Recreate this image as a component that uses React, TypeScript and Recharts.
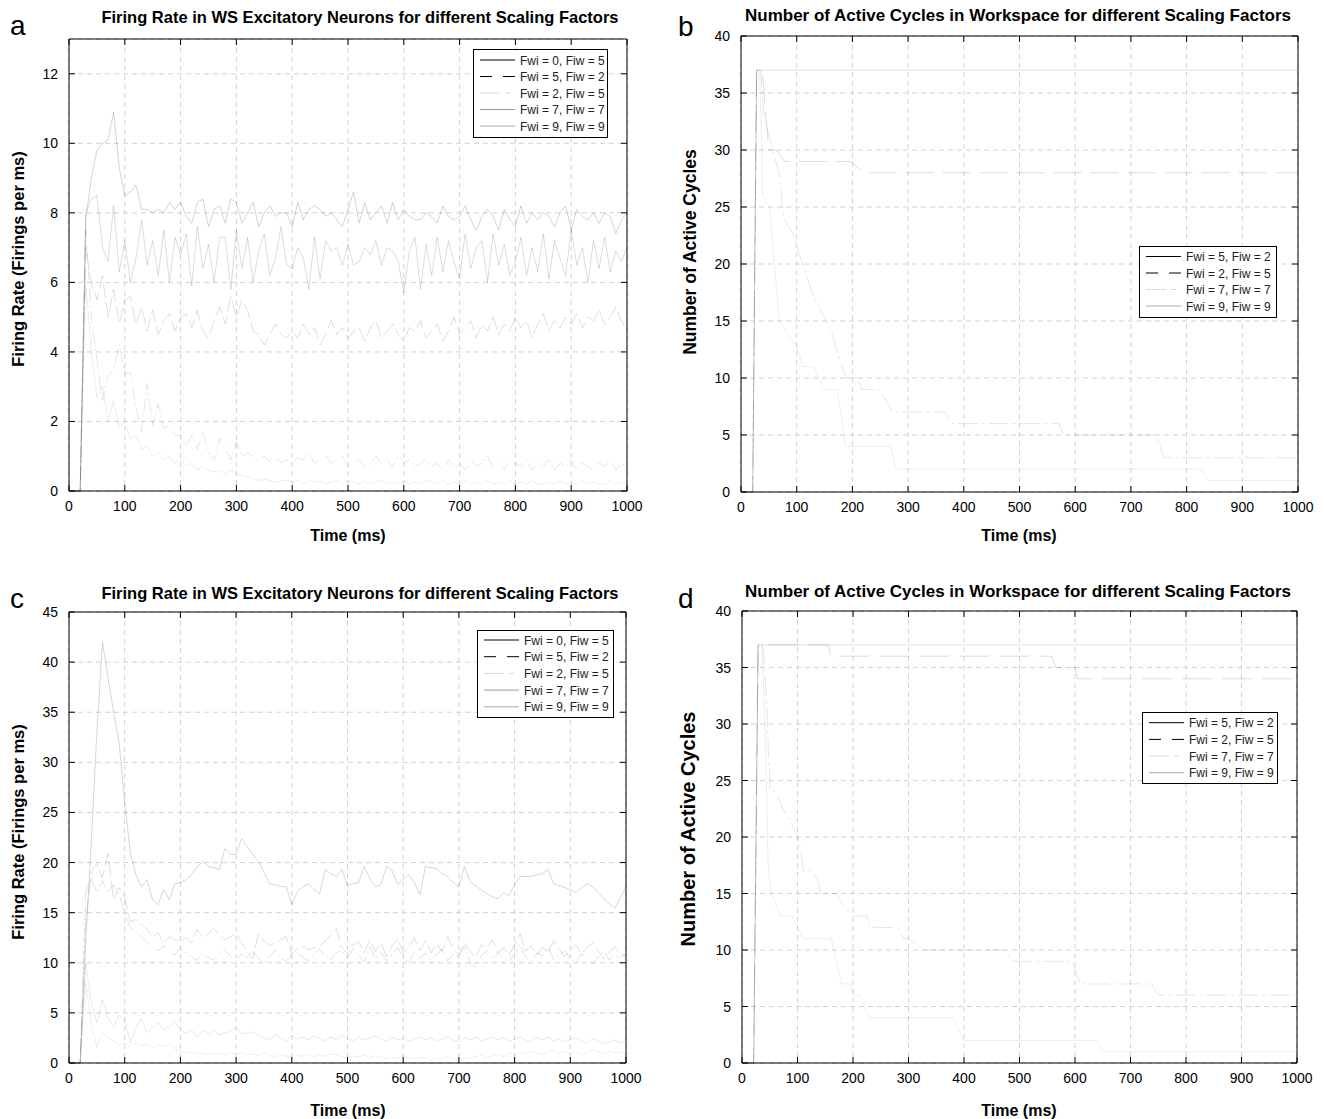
import React from 'react';
import { LineChart, Line, XAxis, YAxis, CartesianGrid, ReferenceArea } from 'recharts';

const FONT = '"Liberation Sans", Arial, Helvetica, sans-serif';

// time axis (ms), sampled every 10 ms
const TIME = [
  0, 10, 20, 30, 40, 50, 60, 70, 80, 90,
  100, 110, 120, 130, 140, 150, 160, 170, 180, 190,
  200, 210, 220, 230, 240, 250, 260, 270, 280, 290,
  300, 310, 320, 330, 340, 350, 360, 370, 380, 390,
  400, 410, 420, 430, 440, 450, 460, 470, 480, 490,
  500, 510, 520, 530, 540, 550, 560, 570, 580, 590,
  600, 610, 620, 630, 640, 650, 660, 670, 680, 690,
  700, 710, 720, 730, 740, 750, 760, 770, 780, 790,
  800, 810, 820, 830, 840, 850, 860, 870, 880, 890,
  900, 910, 920, 930, 940, 950, 960, 970, 980, 990,
  1000,
];

const X_TICKS = [0, 100, 200, 300, 400, 500, 600, 700, 800, 900, 1000];
const A_Y_TICKS = [0, 2, 4, 6, 8, 10, 12];
const C_Y_TICKS = [0, 5, 10, 15, 20, 25, 30, 35, 40, 45];
const BD_Y_TICKS = [0, 5, 10, 15, 20, 25, 30, 35, 40];

const LABELS_5 = ['Fwi = 0, Fiw = 5', 'Fwi = 5, Fiw = 2', 'Fwi = 2, Fiw = 5', 'Fwi = 7, Fiw = 7', 'Fwi = 9, Fiw = 9'];
const LABELS_4 = ['Fwi = 5, Fiw = 2', 'Fwi = 2, Fiw = 5', 'Fwi = 7, Fiw = 7', 'Fwi = 9, Fiw = 9'];

// panel a: firing rate (firings per ms)
const A_FWI9 = [
  0, 0, 0, 7.8, 9.0, 9.8, 10.0, 10.1, 10.9, 9.3,
  8.5, 8.6, 8.8, 8.1, 8.1, 8.0, 8.1, 8.0, 8.3, 8.1,
  8.3, 7.9, 7.7, 8.3, 8.4, 7.6, 8.1, 8.2, 7.7, 8.4,
  8.3, 7.7, 8.0, 8.3, 7.6, 8.0, 8.2, 7.9, 8.0, 8.0,
  7.6, 8.3, 7.8, 8.1, 8.2, 8.1, 7.9, 8.0, 7.8, 7.6,
  8.1, 8.6, 7.7, 8.3, 7.8, 8.0, 8.2, 7.7, 8.3, 7.8,
  8.1, 7.9, 7.8, 7.8, 8.0, 7.9, 7.7, 8.2, 7.9, 7.8,
  7.9, 8.2, 7.8, 7.5, 7.9, 8.1, 7.9, 7.5, 8.1, 7.8,
  7.6, 8.2, 7.7, 8.0, 7.8, 8.0, 7.9, 7.6, 8.0, 8.2,
  7.5, 8.1, 7.9, 7.8, 8.0, 7.7, 8.0, 7.9, 7.4, 7.8,
  8.0,
];
const A_FWI7 = [
  0, 0, 0, 8.0, 8.4, 8.5, 7.0, 6.6, 8.2, 6.3,
  7.2, 6.0, 6.7, 7.8, 6.5, 7.2, 6.2, 7.5, 6.0, 7.3,
  6.8, 7.4, 5.9, 7.6, 6.4, 7.1, 6.0, 7.3, 7.3, 5.8,
  7.5, 6.4, 7.3, 6.0, 6.9, 7.4, 6.2, 6.7, 7.6, 6.5,
  6.4, 7.0, 6.7, 5.8, 7.3, 6.1, 7.2, 6.9, 7.0, 6.5,
  7.1, 6.5, 6.6, 7.0, 6.8, 7.2, 6.5, 7.0, 6.9, 6.6,
  5.7, 6.9, 7.3, 5.8, 7.1, 6.2, 7.3, 6.3, 7.2, 6.6,
  6.1, 7.4, 6.4, 7.0, 7.2, 6.0, 7.4, 6.5, 7.1, 6.2,
  6.6, 7.3, 6.2, 7.0, 6.3, 7.4, 6.1, 7.2, 6.7, 6.2,
  7.5, 6.5, 7.0, 6.0, 7.2, 6.4, 7.3, 6.3, 6.9, 6.6,
  7.0,
];
const A_FWI5 = [
  0, 0, 0, 7.0, 6.0, 5.5, 6.2, 5.0, 5.8, 4.8,
  5.5, 5.6, 4.8, 5.3, 4.6, 5.2, 4.5, 4.9, 5.1, 4.6,
  5.0, 5.1, 4.7, 5.2, 4.6, 4.4, 4.9, 5.3, 4.8, 5.6,
  5.0, 5.5, 5.2, 4.6, 4.5, 4.2, 4.5, 4.8, 4.5, 4.4,
  4.6, 4.4, 4.8, 4.5, 4.7, 4.2, 4.5, 4.9, 4.5, 4.7,
  4.4, 4.6, 4.7, 4.3, 4.7, 4.9, 4.4, 4.6, 4.8, 4.5,
  4.3, 4.7, 4.6, 4.9, 4.4, 4.6, 4.8, 4.3, 4.6, 5.0,
  4.5, 4.7, 4.9, 4.4, 4.8, 4.6, 5.0, 4.5, 4.8, 4.6,
  5.0, 4.7, 4.9, 4.4, 4.8, 5.1, 4.6, 4.9, 4.7, 5.0,
  4.8, 5.1, 4.7, 5.0, 4.9, 5.2, 4.8, 5.0, 5.3, 4.9,
  4.6,
];
const A_FWI2 = [
  0, 0, 0, 7.5, 5.0, 3.8, 2.6, 3.3, 3.5, 4.2,
  3.4, 3.4, 2.4, 1.7, 3.1, 1.9, 2.5, 1.8, 1.9, 1.6,
  1.6, 1.3, 1.6, 1.2, 1.7, 1.1, 0.9, 1.5, 1.2, 0.9,
  1.4, 1.0, 1.1, 1.0, 0.9, 1.0, 0.85, 1.0, 0.8, 0.9,
  0.8, 0.95, 0.9, 1.1, 0.8, 0.9, 1.0, 0.8, 0.9, 1.0,
  0.7, 0.8, 0.9, 0.7, 0.8, 1.0, 0.8, 0.9, 0.7, 1.0,
  0.8, 0.9, 0.7, 0.8, 0.9, 0.7, 0.8, 0.6, 0.9, 0.7,
  0.8, 0.6, 0.9, 0.7, 0.8, 1.0, 0.7, 0.8, 0.6, 0.9,
  0.8, 0.7, 0.9, 0.6, 0.8, 0.7, 0.9, 0.6, 0.8, 0.7,
  0.9, 0.6, 0.8, 0.7, 0.6, 0.8, 0.7, 0.9, 0.6, 0.8,
  0.7,
];
const A_FWI0 = [
  0, 0, 0, 6.0, 4.0, 2.7, 3.0, 2.0, 2.6, 1.8,
  2.0, 1.5, 1.6, 1.2, 1.3, 1.0, 1.1, 0.9, 1.0, 0.8,
  0.9, 0.7, 0.8, 0.6, 0.7, 0.6, 0.55, 0.6, 0.5, 0.6,
  0.5, 0.45, 0.4, 0.35, 0.3, 0.35, 0.3, 0.25, 0.3, 0.3,
  0.25, 0.3, 0.2, 0.3, 0.25, 0.3, 0.2, 0.25, 0.3, 0.2,
  0.3, 0.25, 0.2, 0.3, 0.2, 0.25, 0.3, 0.2, 0.25, 0.2,
  0.3, 0.2, 0.25, 0.2, 0.3, 0.25, 0.2, 0.3, 0.2, 0.25,
  0.2, 0.3, 0.2, 0.25, 0.2, 0.3, 0.2, 0.25, 0.2, 0.3,
  0.2, 0.25, 0.2, 0.3, 0.2, 0.2, 0.25, 0.2, 0.3, 0.2,
  0.25, 0.2, 0.3, 0.2, 0.25, 0.2, 0.2, 0.3, 0.2, 0.25,
  0.2,
];

// panel c: firing rate, second run
const C_FWI9 = [
  0, 0, 0, 12, 22, 33, 42, 38.5, 35, 32,
  26, 21, 18.8, 17.6, 18.3, 16.3, 15.8, 17.3, 16.3, 17.9,
  18.0, 18.3, 18.8, 19.6, 20.1, 19.6, 19.5, 19.3, 21.4, 20.8,
  20.8, 22.4, 21.6, 20.8, 20.1, 19.0, 17.9, 17.8, 17.6, 17.6,
  15.8, 17.1, 17.6, 17.9, 17.3, 16.9, 19.3, 18.9, 18.6, 19.3,
  17.7, 17.9, 18.0, 19.6, 18.4, 17.6, 17.8, 19.6, 19.2, 17.8,
  18.3, 18.8, 18.0, 16.8, 19.6, 19.5, 19.4, 18.9, 18.6, 18.0,
  17.6, 19.6, 18.1, 17.7, 17.3, 16.9, 16.6, 16.4, 17.0, 16.7,
  17.8, 18.6, 18.6, 18.6, 18.8, 18.9, 19.3, 17.9, 17.7, 17.5,
  17.3, 17.0, 17.5, 17.9, 17.6, 17.0, 16.4, 15.9, 15.4, 16.5,
  17.6,
];
const C_FWI7 = [
  0, 0, 0, 14, 19.1, 19.9, 18.5, 20.9, 16.3, 17.5,
  16.5, 14.1, 14.3, 13.8, 13.3, 12.6, 13.0, 11.9, 12.6, 12.3,
  12.1, 12.5, 12.0, 13.3, 12.6, 12.9, 13.4, 12.8, 12.3, 12.6,
  12.9, 12.0, 11.0, 10.4, 12.9, 12.2, 11.7, 12.0, 12.3, 12.6,
  10.9, 11.4, 11.6, 11.3, 11.5, 11.6, 12.2, 12.8, 13.4, 11.5,
  10.9, 11.8, 12.1, 11.0, 12.3, 11.1, 12.0, 10.6, 11.7, 12.4,
  11.0, 11.6, 12.5, 11.2, 12.2, 11.0, 11.9, 11.1, 12.6, 11.4,
  10.8, 12.0, 11.2, 10.5, 11.8, 11.5, 12.3, 11.0, 11.5, 10.7,
  11.8, 12.9, 11.2, 11.7, 10.8, 11.6, 11.0, 12.2, 11.4, 10.6,
  11.3, 11.8, 10.9, 11.5, 12.0, 11.2, 10.4, 11.0, 11.6, 10.9,
  10.7,
];
const C_FWI5 = [
  0, 0, 0, 17, 18.5, 17, 18.2, 17.0, 17.8, 16.8,
  15.0, 13.5, 13.0, 12.6, 12.0, 11.5, 11.2, 11.7, 11.0, 10.8,
  11.4, 11.0, 10.6, 10.2, 10.9, 10.5, 10.3, 10.8, 11.3, 10.6,
  10.2, 10.9, 10.5, 11.2, 10.4, 10.0, 10.6, 11.3, 10.5, 10.2,
  10.7, 11.1, 10.5, 10.2, 10.9, 11.4, 10.6, 10.3, 11.0, 11.2,
  10.5, 11.4, 10.8, 10.1, 11.6, 10.4, 11.0, 10.2, 10.9, 11.5,
  10.6, 10.0, 11.1, 10.4, 11.0, 10.3, 10.8, 11.4, 10.2, 10.9,
  10.6, 11.7, 10.0, 9.6, 10.7, 11.2, 10.4, 11.0, 10.5, 10.1,
  10.9, 11.8, 10.6, 10.2, 11.0, 10.7, 11.5, 10.3, 10.8, 11.2,
  10.4, 10.0, 10.9, 10.5, 9.9, 10.6, 11.1, 10.3, 10.8, 10.5,
  10.9,
];
const C_FWI2 = [
  0, 0, 0, 10, 6, 4.0, 6.3, 4.5, 3.6, 4.8,
  4.3, 2.0, 3.5, 4.5, 3.0, 3.6, 4.0, 3.3, 3.6, 4.1,
  3.4, 3.0, 3.3, 2.6, 3.2, 2.9, 3.3, 2.8, 3.0, 3.2,
  3.6, 2.9, 3.0, 3.1, 2.7, 2.5, 2.3, 2.8, 2.5, 2.2,
  2.7, 2.4, 2.6, 2.3, 2.7, 2.5, 2.2, 2.6, 2.3, 2.8,
  2.4, 2.2, 2.6, 2.3, 2.5, 2.7, 2.4, 2.2, 2.6, 2.3,
  2.5, 2.2, 2.4, 2.6, 2.3, 2.5, 2.2, 2.4, 2.6, 2.3,
  2.1, 2.5, 2.3, 2.6, 2.2, 2.4, 2.6, 2.3, 2.5, 2.2,
  2.4, 2.6, 2.3, 2.1, 2.5, 2.3, 2.6, 2.2, 2.4, 2.1,
  2.3, 2.5, 2.2, 2.0, 2.4, 2.2, 1.9, 2.1, 2.3, 2.0,
  2.2,
];
const C_FWI0 = [
  0, 0, 0, 8, 4, 1.6, 3.0, 2.5, 2.2, 1.8,
  2.0, 1.6, 2.0, 1.7, 1.9, 1.5, 1.8, 1.6, 1.9, 1.4,
  1.2, 1.0, 1.1, 0.9, 1.0, 0.8, 0.9, 1.0, 0.8, 1.1,
  0.9, 1.0, 0.8, 0.9, 0.7, 1.0, 0.8, 0.6, 0.8, 0.7,
  0.6, 0.8, 0.7, 0.9, 0.6, 0.8, 0.7, 0.9, 0.8, 0.6,
  0.5, 0.7, 0.6, 0.8, 0.5, 0.7, 0.6, 0.4, 0.6, 0.5,
  0.7, 0.5, 0.4, 0.6, 0.5, 0.3, 0.5, 0.4, 0.6, 0.4,
  0.3, 0.5, 0.4, 0.6, 0.8, 0.5, 0.7, 0.9, 0.6, 1.0,
  0.8, 1.1, 0.9, 1.2, 1.0, 0.8, 1.1, 1.3, 1.0, 1.2,
  0.9, 1.1, 0.8, 1.0, 1.3, 1.1, 0.9, 1.2, 1.0, 1.1,
  0.9,
];

// panel b: active cycles, breakpoints (t in ms, count)
const B_FWI5_T = [0, 21, 28, 1000];
const B_FWI5_V = [0, 0, 37, 37];
const B_FWI2_T = [0, 21, 28, 38, 50, 63, 78, 197, 221, 1000];
const B_FWI2_V = [0, 0, 37, 37, 30, 30, 29, 29, 28, 28];
const B_FWI7_T = [0, 21, 28, 35, 41, 68, 77, 93, 108, 131, 161, 188, 209, 217, 247, 261, 272, 367, 379, 570, 580, 745, 760, 1000];
const B_FWI7_V = [0, 0, 37, 37, 33, 28, 24, 22.7, 20.3, 17.1, 14.2, 10, 10, 9, 9, 8, 7, 7, 6, 6, 5, 5, 3, 3];
const B_FWI9_T = [0, 21, 28, 33, 36, 39, 51, 69, 95, 99, 111, 129, 149, 173, 188, 269, 278, 826, 838, 1000];
const B_FWI9_V = [0, 0, 37, 37, 33, 26, 25, 15, 13, 13, 11, 11, 9, 9, 4, 4, 2, 2, 1, 1];

// panel d: active cycles, second run
const D_FWI5_T = [0, 21, 29, 1000];
const D_FWI5_V = [0, 0, 37, 37];
const D_FWI2_T = [0, 21, 29, 155, 160, 558, 565, 600, 605, 1000];
const D_FWI2_V = [0, 0, 37, 37, 36, 36, 35, 35, 34, 34];
const D_FWI7_T = [0, 21, 29, 36, 39, 42, 45, 48, 51, 60, 75, 87, 99, 105, 111, 123, 136, 142, 170, 179, 199, 225, 230, 281, 291, 300, 330, 475, 490, 594, 610, 738, 750, 1000];
const D_FWI7_V = [0, 0, 37, 37, 36.3, 34, 31.3, 26.9, 24.1, 24, 22.4, 21.4, 20.2, 19, 17, 17, 16.2, 15, 15, 14.2, 13, 13, 12, 12, 11, 11, 10, 10, 9, 9, 7, 7, 6, 6];
const D_FWI9_T = [0, 21, 29, 36, 42, 47, 53, 69, 90, 111, 161, 179, 194, 200, 212, 230, 379, 400, 640, 650, 1000];
const D_FWI9_V = [0, 0, 37, 37, 29.2, 17.7, 15, 13, 13, 11, 11, 7, 7, 6, 6, 4, 4, 2, 2, 1, 1];

const pts = (ts: number[], vs: number[]) => ts.map((t, i) => ({ t, v: vs[i] }));

const tableA = TIME.map((t, i) => ({ t, s0: A_FWI0[i], s5: A_FWI5[i], s2: A_FWI2[i], s7: A_FWI7[i], s9: A_FWI9[i] }));
const tableC = TIME.map((t, i) => ({ t, s0: C_FWI0[i], s5: C_FWI5[i], s2: C_FWI2[i], s7: C_FWI7[i], s9: C_FWI9[i] }));

type Series = { key: string; data?: { t: number; v: number }[]; op: number; dash?: string };

const seriesA: Series[] = [
  { key: 's0', op: 0.08 },
  { key: 's2', op: 0.1, dash: '14 3 2 3' },
  { key: 's5', op: 0.13, dash: '16 4' },
  { key: 's7', op: 0.14 },
  { key: 's9', op: 0.17 },
];
const seriesC: Series[] = [
  { key: 's0', op: 0.07 },
  { key: 's2', op: 0.09 },
  { key: 's5', op: 0.12, dash: '14 3 2 3' },
  { key: 's7', op: 0.13, dash: '16 4' },
  { key: 's9', op: 0.16 },
];
const seriesB: Series[] = [
  { key: 'v', data: pts(B_FWI9_T, B_FWI9_V), op: 0.07 },
  { key: 'v', data: pts(B_FWI7_T, B_FWI7_V), op: 0.1, dash: '20 4 3 4' },
  { key: 'v', data: pts(B_FWI2_T, B_FWI2_V), op: 0.14, dash: '28 9' },
  { key: 'v', data: pts(B_FWI5_T, B_FWI5_V), op: 0.13 },
];
const seriesD: Series[] = [
  { key: 'v', data: pts(D_FWI9_T, D_FWI9_V), op: 0.07 },
  { key: 'v', data: pts(D_FWI7_T, D_FWI7_V), op: 0.1, dash: '20 4 3 4' },
  { key: 'v', data: pts(D_FWI2_T, D_FWI2_V), op: 0.14, dash: '30 10' },
  { key: 'v', data: pts(D_FWI5_T, D_FWI5_V), op: 0.12 },
];

const LEG5 = [
  { color: '#000' },
  { color: '#000', dash: '12 11' },
  { color: '#d8d8d8', dash: '20 5 5 5' },
  { color: '#999' },
  { color: '#aaa' },
];
const LEG4 = [
  { color: '#000' },
  { color: '#000', dash: '12 11' },
  { color: '#d8d8d8', dash: '20 5 5 5' },
  { color: '#aaa' },
];

interface PanelProps {
  left: number;
  top: number;
  plotW: number;
  plotH: number;
  yMax: number;
  yTicks: number[];
  data?: any[];
  series: Series[];
}

const Panel: React.FC<PanelProps> = ({ left, top, plotW, plotH, yMax, yTicks, data, series }) => {
  const xTick = (p: any) => (
    <g>
      <line x1={p.x} y1={p.y} x2={p.x} y2={p.y - 6} stroke="#000" />
      <line x1={p.x} y1={p.y - plotH} x2={p.x} y2={p.y - plotH + 6} stroke="#000" />
      <text x={p.x} y={p.y + 20} textAnchor="middle" fontSize={14} fontFamily={FONT} fill="#000">
        {p.payload.value}
      </text>
    </g>
  );
  const yTick = (p: any) => (
    <g>
      <line x1={p.x} y1={p.y} x2={p.x + 6} y2={p.y} stroke="#000" />
      <line x1={p.x + plotW} y1={p.y} x2={p.x + plotW - 6} y2={p.y} stroke="#000" />
      <text x={p.x - 11} y={p.y + 5} textAnchor="end" fontSize={14} fontFamily={FONT} fill="#000">
        {p.payload.value}
      </text>
    </g>
  );
  return (
    <div style={{ position: 'absolute', left: left - 50, top: top - 10 }}>
      <LineChart width={plotW + 70} height={plotH + 40} data={data} margin={{ top: 10, right: 20, left: 0, bottom: 0 }}>
        <CartesianGrid stroke="#d2d2d2" strokeDasharray="5 4" />
        <XAxis
          dataKey="t"
          type="number"
          domain={[0, 1000]}
          ticks={X_TICKS}
          interval={0}
          height={30}
          tickSize={0}
          tickMargin={0}
          tickLine={false}
          axisLine={false}
          tick={xTick}
        />
        <YAxis
          type="number"
          domain={[0, yMax]}
          ticks={yTicks}
          interval={0}
          width={50}
          tickSize={0}
          tickMargin={0}
          tickLine={false}
          axisLine={false}
          tick={yTick}
        />
        {series.map((s, i) => (
          <Line
            key={i}
            data={s.data}
            dataKey={s.key}
            type="linear"
            stroke="#000"
            strokeOpacity={s.op}
            strokeWidth={1}
            strokeDasharray={s.dash}
            dot={false}
            activeDot={false}
            isAnimationActive={false}
          />
        ))}
        <ReferenceArea x1={0} x2={1000} y1={0} y2={yMax} fill="none" stroke="#000" strokeWidth={1} ifOverflow="visible" />
      </LineChart>
    </div>
  );
};

interface LegendProps {
  left: number;
  top: number;
  width: number;
  height: number;
  labels: string[];
  styles: { color: string; dash?: string }[];
  first: number;
  gap: number;
}

const LegendBox: React.FC<LegendProps> = ({ left, top, width, height, labels, styles, first, gap }) => (
  <svg style={{ position: 'absolute', left, top }} width={width + 1} height={height + 1}>
    <rect x={0.5} y={0.5} width={width} height={height} fill="#fff" stroke="#000" />
    {labels.map((lab, i) => {
      const y = first + i * gap;
      return (
        <g key={lab}>
          <line x1={7} x2={42} y1={y} y2={y} stroke={styles[i].color} strokeDasharray={styles[i].dash} />
          <text x={47} y={y + 4.5} fontSize={12} fontFamily={FONT} fill="#222">
            {lab}
          </text>
        </g>
      );
    })}
  </svg>
);

const TITLE_RATE = 'Firing Rate in WS Excitatory Neurons for different Scaling Factors';
const TITLE_CYCLES = 'Number of Active Cycles in Workspace for different Scaling Factors';

export default function App() {
  return (
    <div style={{ position: 'absolute', left: 0, top: 0, width: 1325, height: 1119, background: '#fff', fontFamily: FONT }}>
      <Panel left={69} top={39} plotW={558} plotH={452} yMax={13} yTicks={A_Y_TICKS} data={tableA} series={seriesA} />
      <Panel left={741} top={36} plotW={557} plotH={456} yMax={40} yTicks={BD_Y_TICKS} series={seriesB} />
      <Panel left={69} top={612} plotW={557} plotH={451} yMax={45} yTicks={C_Y_TICKS} data={tableC} series={seriesC} />
      <Panel left={742} top={611} plotW={555} plotH={452} yMax={40} yTicks={BD_Y_TICKS} series={seriesD} />

      <LegendBox left={473} top={49} width={134} height={88} labels={LABELS_5} styles={LEG5} first={11} gap={16.5} />
      <LegendBox left={1139} top={246} width={137} height={71} labels={LABELS_4} styles={LEG4} first={10.5} gap={16.5} />
      <LegendBox left={477} top={630} width={136} height={87} labels={LABELS_5} styles={LEG5} first={10} gap={16.7} />
      <LegendBox left={1142} top={712} width={135} height={71} labels={LABELS_4} styles={LEG4} first={10.7} gap={16.7} />

      <svg style={{ position: 'absolute', left: 0, top: 0, pointerEvents: 'none' }} width={1325} height={1119}>
        <g fontFamily={FONT} fill="#000">
          <text x={10} y={35} fontSize={28}>a</text>
          <text x={678} y={36} fontSize={28}>b</text>
          <text x={10} y={608} fontSize={28}>c</text>
          <text x={678} y={608} fontSize={28}>d</text>

          <text x={360} y={23} fontSize={16.5} fontWeight="bold" textAnchor="middle">{TITLE_RATE}</text>
          <text x={1018} y={21} fontSize={17} fontWeight="bold" textAnchor="middle">{TITLE_CYCLES}</text>
          <text x={360} y={599} fontSize={16.5} fontWeight="bold" textAnchor="middle">{TITLE_RATE}</text>
          <text x={1018} y={597} fontSize={17} fontWeight="bold" textAnchor="middle">{TITLE_CYCLES}</text>

          <text x={348} y={541} fontSize={16} fontWeight="bold" textAnchor="middle">Time (ms)</text>
          <text x={1019} y={541} fontSize={16} fontWeight="bold" textAnchor="middle">Time (ms)</text>
          <text x={348} y={1116} fontSize={16} fontWeight="bold" textAnchor="middle">Time (ms)</text>
          <text x={1019} y={1116} fontSize={16} fontWeight="bold" textAnchor="middle">Time (ms)</text>

          <text x={18} y={259} fontSize={16.5} fontWeight="bold" textAnchor="middle" dominantBaseline="central" transform="rotate(-90, 18, 259)">Firing Rate (Firings per ms)</text>
          <text x={690} y={252} fontSize={17.5} fontWeight="bold" textAnchor="middle" dominantBaseline="central" transform="rotate(-90, 690, 252)">Number of Active Cycles</text>
          <text x={18} y={832} fontSize={16.5} fontWeight="bold" textAnchor="middle" dominantBaseline="central" transform="rotate(-90, 18, 832)">Firing Rate (Firings per ms)</text>
          <text x={688} y={829} fontSize={20} fontWeight="bold" textAnchor="middle" dominantBaseline="central" transform="rotate(-90, 688, 829)">Number of Active Cycles</text>
        </g>
      </svg>
    </div>
  );
}
